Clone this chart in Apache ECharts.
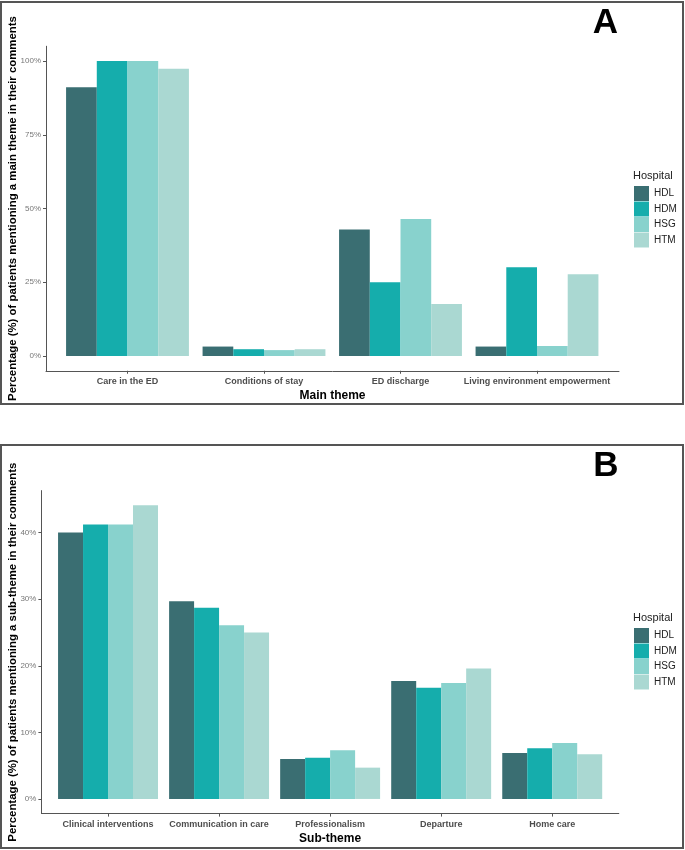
<!DOCTYPE html>
<html>
<head>
<meta charset="utf-8">
<script src="https://cdn.jsdelivr.net/npm/echarts@6/dist/echarts.min.js"></script>
<style>
html,body{margin:0;padding:0;background:#fff;}
#chart{width:685px;height:850px;}
</style>
</head>
<body>
<div id="chart"></div>
<script>
// ---- data ----
const hospitals = ['HDL', 'HDM', 'HSG', 'HTM'];
const colors = ['#3a6e72', '#15adac', '#88d2cd', '#aad8d2'];

const categoriesA = ['Care in the ED', 'Conditions of stay', 'ED discharge', 'Living environment empowerment'];
const A_HDL = [91.1, 3.2, 42.9, 3.2];
const A_HDM = [100, 2.3, 25.0, 30.1];
const A_HSG = [100, 2.0, 46.4, 3.4];
const A_HTM = [97.4, 2.3, 17.6, 27.7];
const yTicksA = [0, 25, 50, 75, 100];

const categoriesB = ['Clinical interventions', 'Communication in care', 'Professionalism', 'Departure', 'Home care'];
const B_HDL = [40.0, 29.7, 6.0, 17.7, 6.9];
const B_HDM = [41.2, 28.7, 6.2, 16.7, 7.6];
const B_HSG = [41.2, 26.1, 7.3, 17.4, 8.4];
const B_HTM = [44.1, 25.0, 4.7, 19.6, 6.7];
const yTicksB = [0, 10, 20, 30, 40];

const yTitleA = 'Percentage (%) of patients mentioning a main theme in their comments';
const yTitleB = 'Percentage (%) of patients mentioning a sub-theme in their comments';
const xTitleA = 'Main theme';
const xTitleB = 'Sub-theme';

// ---- layout ----
const FONT = "'Liberation Sans', Arial, sans-serif";
const seriesA = [A_HDL, A_HDM, A_HSG, A_HTM];
const seriesB = [B_HDL, B_HDM, B_HSG, B_HTM];

const yA = {min: -5, max: 105};
const yB = {min: -2.2, max: 46.3};

function frameY(gridIndex, ext, ticks, title, gap) {
  return {
    type: 'value', gridIndex, min: ext.min, max: ext.max,
    splitLine: {show: false},
    axisLine: {show: true, onZero: false, lineStyle: {color: '#555', width: 1}},
    axisTick: {show: true, length: 3, lineStyle: {color: '#555'}, customValues: ticks},
    axisLabel: {show: true, margin: 5, fontSize: 8, color: '#777', fontFamily: FONT,
      customValues: ticks, formatter: v => v + '%'},
    name: title, nameLocation: 'middle', nameRotate: 90, nameGap: gap, nameMoveOverlap: false,
    nameTextStyle: {fontSize: 11.4, fontWeight: 'bold', color: '#000', fontFamily: FONT}
  };
}
function hiddenY(gridIndex, ext) {
  return {type: 'value', gridIndex, min: ext.min, max: ext.max, show: false, splitLine: {show: false}};
}
function frameX(gridIndex, title) {
  return {
    type: 'value', gridIndex, min: 0, max: 1,
    splitLine: {show: false},
    axisLine: {show: true, onZero: false, lineStyle: {color: '#555', width: 1}},
    axisTick: {show: false}, axisLabel: {show: false},
    name: title, nameLocation: 'middle', nameGap: 19, nameMoveOverlap: false,
    nameTextStyle: {fontSize: 12, fontWeight: 'bold', color: '#000', fontFamily: FONT}
  };
}
function catX(gridIndex, cats) {
  return {
    type: 'category', gridIndex, data: cats,
    axisLine: {show: false, onZero: false},
    axisTick: {show: true, alignWithLabel: true, length: 3, lineStyle: {color: '#555'}},
    axisLabel: {show: true, margin: 6, fontSize: 9, fontWeight: 'bold', color: '#4d4d4d', fontFamily: FONT, interval: 0},
    splitLine: {show: false}
  };
}

const series = [];
seriesA.forEach((d, i) => series.push({
  name: hospitals[i], type: 'bar', xAxisIndex: 1, yAxisIndex: 1, data: d,
  barGap: '0%', barCategoryGap: '10%', itemStyle: {color: colors[i]}, animation: false
}));
seriesB.forEach((d, i) => series.push({
  name: hospitals[i], type: 'bar', xAxisIndex: 3, yAxisIndex: 3, data: d,
  barGap: '0%', barCategoryGap: '10%', itemStyle: {color: colors[i]}, animation: false
}));

const legendBase = {
  orient: 'vertical', left: 634, itemWidth: 15, itemHeight: 15, itemGap: 0.5,
  padding: 0, icon: 'rect', selectedMode: false,
  textStyle: {fontSize: 10, color: '#222', fontFamily: FONT},
  data: hospitals
};

const gridBase = {containLabel: false, outerBoundsMode: 'none'};

const option = {
  backgroundColor: '#fff',
  animation: false,
  grid: [
    Object.assign({left: 46, top: 46.25, width: 573, height: 324.5}, gridBase),       // A frame
    Object.assign({left: 59.25, top: 46.25, width: 546, height: 324.5}, gridBase),    // A bars
    Object.assign({left: 41.4, top: 490.6, width: 577.4, height: 323}, gridBase),     // B frame
    Object.assign({left: 52.5, top: 490.6, width: 555.25, height: 323}, gridBase)      // B bars
  ],
  xAxis: [frameX(0, xTitleA), catX(1, categoriesA), frameX(2, xTitleB), catX(3, categoriesB)],
  yAxis: [frameY(0, yA, yTicksA, yTitleA, 28), hiddenY(1, yA), frameY(2, yB, yTicksB, yTitleB, 23.5), hiddenY(3, yB)],
  legend: [
    Object.assign({}, legendBase, {top: 186}),
    Object.assign({}, legendBase, {top: 628})
  ],
  graphic: [
    {type: 'rect', shape: {x: 1, y: 2, width: 682, height: 402}, style: {fill: 'none', stroke: '#555', lineWidth: 2}, silent: true},
    {type: 'rect', shape: {x: 1, y: 445, width: 682, height: 403}, style: {fill: 'none', stroke: '#555', lineWidth: 2}, silent: true},
    {type: 'text', x: 605.5, y: 23, style: {text: 'A', fontSize: 35, fontWeight: 'bold', fill: '#000', fontFamily: FONT, align: 'center', verticalAlign: 'middle'}},
    {type: 'text', x: 606, y: 466, style: {text: 'B', fontSize: 35, fontWeight: 'bold', fill: '#000', fontFamily: FONT, align: 'center', verticalAlign: 'middle'}},
    {type: 'text', x: 633, y: 176, style: {text: 'Hospital', fontSize: 11, fill: '#222', fontFamily: FONT, align: 'left', verticalAlign: 'middle'}},
    {type: 'text', x: 633, y: 618, style: {text: 'Hospital', fontSize: 11, fill: '#222', fontFamily: FONT, align: 'left', verticalAlign: 'middle'}}
  ],
  series
};

const chart = echarts.init(document.getElementById('chart'), null, {renderer: 'canvas'});
chart.setOption(option);
</script>
</body>
</html>
